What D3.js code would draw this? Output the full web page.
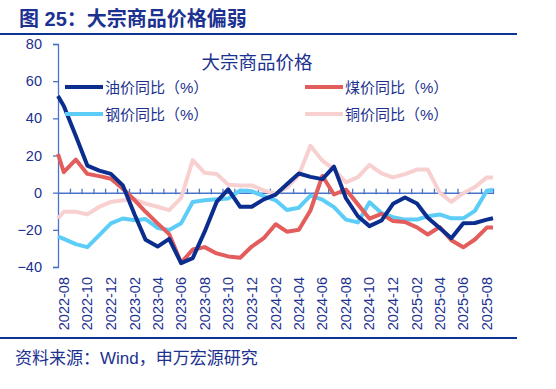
<!DOCTYPE html>
<html>
<head>
<meta charset="utf-8">
<script src="https://cdn.jsdelivr.net/npm/d3@7"></script>
<style>
  body { margin: 0; background: #fff; }
  svg text { font-family: "Liberation Sans", Arial, "Noto Sans CJK SC", sans-serif; }
</style>
</head>
<body>
<div id="chart"></div>
<script>
// months shown on the axis (band per month)
const months = d3.timeMonth.range(new Date(2022, 7, 1), new Date(2025, 8, 1));

// data dates: line starts at the axis, then one value mid-month, ends at the right edge
const dates = [new Date(2022, 7, 1)]
  .concat(months.map(m => d3.timeDay.offset(m, 15)))
  .concat([new Date(2025, 8, 1)]);

const oil = [52, 46.6, 30.6, 14.6, 11.9, 10.1, 3.9, -12, -25.4, -29, -24.9, -37.9, -35.2, -21, -5, 1.8,
  -7.6, -7.6, -3.6, -1, 4.5, 10.3, 8.5, 7.3, 14, -3, -12.7, -18, -15, -6, -2.6, -5.8, -13.5, -19, -24.5,
  -16.5, -16.3, -14.5, -13.8];
const coal = [20.8, 11, 17.8, 10.1, 8.9, 7.5, 2.1, -4.1, -10.3, -16.5, -22.3, -37.7, -30.6, -29.3, -32.7,
  -34.3, -35, -29, -24.5, -17, -21, -20, -9.6, 9, -1, 1.7, -6.3, -14, -11.4, -15.3, -15.8, -18.7, -22.5,
  -18.5, -25.6, -29.4, -25.2, -18.8, -18.8];
const steel = [-23.6, -24.9, -27.7, -29.3, -22.8, -16.5, -13.9, -14.8, -14.2, -19, -20.1, -16.5, -5, -4.1,
  -3.6, -3.2, 1.2, 0.7, -1.8, -4.1, -9.3, -8.1, -1.6, -3.8, -7.8, -14.5, -16, -5.2, -11, -13.2, -14.5,
  -14.5, -12.7, -11.7, -13.8, -13.8, -9.8, 1, 1.6];
const copper = [-13.9, -10.3, -10.3, -11.7, -7.6, -5, -4.1, -3.7, -5.9, -7.6, -9.4, -2.8, 17.5, 10.7, 10.1,
  4.3, 3.9, 3.9, 1.2, -0.5, 2.6, 9.5, 25.2, 17.2, 12.5, 5.5, 8.4, 15, 10.4, 8.2, 10, 12.4, 12.4, 0, -5,
  -0.3, 3, 8.2, 8.1];

const yTicks = [80, 60, 40, 20, 0, -20, -40];

const series = [
  { name: "油价同比（%）", values: oil, color: "#0b2d8e" },
  { name: "煤价同比（%）", values: coal, color: "#e25d5b" },
  { name: "钢价同比（%）", values: steel, color: "#5ccdf7" },
  { name: "铜价同比（%）", values: copper, color: "#f8d0d0" }
];

const W = 556, H = 389;
const navy = "#1c3190";
const axisBlue = "#4a74c9";

const svg = d3.select("#chart").append("svg")
  .attr("width", W).attr("height", H);

// header
svg.append("text")
  .attr("x", 19).attr("y", 26)
  .attr("fill", navy)
  .style("font-size", "20px").style("font-weight", "bold")
  .text("图 25：大宗商品价格偏弱");

svg.append("line")
  .attr("x1", 0).attr("x2", 517).attr("y1", 34).attr("y2", 34)
  .attr("stroke", "#0a3596").attr("stroke-width", 2.2);

svg.append("line")
  .attr("x1", 0).attr("x2", 517).attr("y1", 338).attr("y2", 338)
  .attr("stroke", "#0a3596").attr("stroke-width", 2.2);

svg.append("text")
  .attr("x", 15).attr("y", 364)
  .attr("fill", navy)
  .style("font-size", "17px")
  .text("资料来源：Wind，申万宏源研究");

// scales
const x = d3.scaleTime()
  .domain([new Date(2022, 7, 1), new Date(2025, 8, 1)])
  .range([58, 493]);

const y = d3.scaleLinear()
  .domain([-40, 80])
  .range([267, 44]);

// y axis
const yAxis = svg.append("g")
  .attr("transform", "translate(58,0)")
  .call(d3.axisLeft(y).tickValues(yTicks).tickSize(5).tickPadding(11));
yAxis.select(".domain").attr("stroke", axisBlue).attr("stroke-width", 1.3);
yAxis.selectAll(".tick line").attr("stroke", axisBlue).attr("stroke-width", 1.3);
yAxis.selectAll("text")
  .attr("fill", navy)
  .style("font-size", "14.5px");

// zero line with month ticks
const xAxis = svg.append("g")
  .attr("transform", `translate(0,${y(0)})`)
  .call(d3.axisBottom(x).tickValues(months.slice(1).concat([new Date(2025, 8, 1)]))
    .tickSizeInner(-4).tickSizeOuter(0).tickFormat(""));
xAxis.select(".domain").attr("stroke", axisBlue).attr("stroke-width", 1.5);
xAxis.selectAll(".tick line").attr("stroke", axisBlue).attr("stroke-width", 1.3)
  .attr("y2", -4).attr("y1", 1.5);

// month labels every two months, rotated
const fmt = d3.timeFormat("%Y-%m");
svg.append("g")
  .selectAll("text")
  .data(months.filter((m, i) => i % 2 === 0))
  .join("text")
  .attr("transform", d => `translate(${x(d3.timeDay.offset(d, 15)) + 5},277) rotate(-90)`)
  .attr("text-anchor", "end")
  .attr("fill", navy)
  .style("font-size", "14.5px")
  .text(d => fmt(d));

// lines (drawn back to front: copper, steel, coal, oil)
const line = d3.line()
  .x((d, i) => x(dates[i]))
  .y(d => y(d));

[series[3], series[2], series[1], series[0]].forEach(s => {
  svg.append("path")
    .datum(s.values)
    .attr("fill", "none")
    .attr("stroke", s.color)
    .attr("stroke-width", 4)
    .attr("stroke-linejoin", "round")
    .attr("d", line);
});

// chart title
svg.append("text")
  .attr("x", 257).attr("y", 69)
  .attr("text-anchor", "middle")
  .attr("fill", navy)
  .style("font-size", "18.5px")
  .text("大宗商品价格");

// legend
const legendPos = [[65, 87], [305, 87], [65, 114], [305, 114]];
series.forEach((s, i) => {
  const [lx, ly] = legendPos[i];
  svg.append("line")
    .attr("x1", lx).attr("x2", lx + 38).attr("y1", ly).attr("y2", ly)
    .attr("stroke", s.color).attr("stroke-width", 4);
  svg.append("text")
    .attr("x", lx + 40).attr("y", ly + 5.5)
    .attr("fill", navy)
    .style("font-size", "15px")
    .text(s.name);
});
</script>
</body>
</html>
